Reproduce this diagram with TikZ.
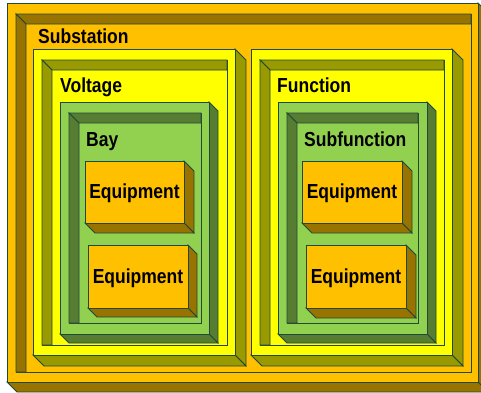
\documentclass[tikz,border=0pt]{standalone}
\usepackage{fontspec}
\setmainfont{Liberation Sans}
\definecolor{edgec}{HTML}{1F4A3A}
\definecolor{orangef}{HTML}{FFC000}
\definecolor{orangeside}{HTML}{997300}
\definecolor{yellowf}{HTML}{FFFF00}
\definecolor{yellowside}{HTML}{999900}
\definecolor{greenf}{HTML}{92D050}
\definecolor{greenside}{HTML}{577D33}
\tikzset{
  edge/.style={draw=edgec,line width=0.8pt,line join=miter},
  lbl/.style={font=\fontsize{17.5}{20}\selectfont\bfseries,inner sep=0pt,yscale=1.16,text=black},
}
% solid 3D box: x1 y1 x2 y2 depth frontcolour sidecolour
\newcommand{\cubebox}[7]{%
  \filldraw[edge,fill=#7] (#3,#2) -- (#3+#5,#2+#5) -- (#3+#5,#4+#5) -- (#3,#4) -- cycle;
  \filldraw[edge,fill=#7] (#1,#4) -- (#3,#4) -- (#3+#5,#4+#5) -- (#1+#5,#4+#5) -- cycle;
  \filldraw[edge,fill=#6] (#1,#2) rectangle (#3,#4);
}
% recessed opening: x1 y1 x2 y2 wall frontcolour sidecolour
\newcommand{\recessbox}[7]{%
  \filldraw[edge,fill=#6] (#1,#2) rectangle (#3,#4);
  \filldraw[edge,fill=#7] (#1,#2) -- (#3,#2) -- (#3,#2+#5) -- (#1+#5,#2+#5) -- cycle;
  \filldraw[edge,fill=#7] (#1,#2) -- (#1+#5,#2+#5) -- (#1+#5,#4) -- (#1,#4) -- cycle;
}
\begin{document}
\begin{tikzpicture}[x=1pt,y=-1pt]
\useasboundingbox (0,0) rectangle (481,392);
\clip (0,0) rectangle (481,392);
\fill[white] (0,0) rectangle (481,392);
% Substation
\cubebox{7}{3}{478}{382}{10}{orangef}{orangeside}
\recessbox{16}{14}{471}{372}{10}{orangef}{orangeside}
\node[lbl,anchor=base west] (substation) at (38,43) {Substation};
% Voltage
\cubebox{33}{49}{235}{355}{11}{yellowf}{yellowside}
\recessbox{42}{60}{227}{345}{10}{yellowf}{yellowside}
\node[lbl,anchor=base west] (voltage) at (60,92) {Voltage};
% Function
\cubebox{251}{49}{452}{355}{11}{yellowf}{yellowside}
\recessbox{260}{60}{444}{345}{10}{yellowf}{yellowside}
\node[lbl,anchor=base west] (function) at (277,92) {Function};
% Bay
\cubebox{60}{102}{209}{334}{9}{greenf}{greenside}
\recessbox{69}{113}{201}{323}{10}{greenf}{greenside}
\node[lbl,anchor=base west] (bay) at (86,146) {Bay};
% Subfunction
\cubebox{278}{102}{427}{334}{9}{greenf}{greenside}
\recessbox{287}{113}{418}{323}{10}{greenf}{greenside}
\node[lbl,anchor=base west] (subfunction) at (304,146) {Subfunction};
% Equipment boxes
\cubebox{85}{161}{184}{223}{10}{orangef}{orangeside}
\node[lbl,anchor=base] (eq1) at (134.5,198) {Equipment};
\cubebox{88}{245}{188}{308}{9}{orangef}{orangeside}
\node[lbl,anchor=base] (eq2) at (138,283) {Equipment};
\cubebox{302}{161}{402}{223}{10}{orangef}{orangeside}
\node[lbl,anchor=base] (eq3) at (352,198) {Equipment};
\cubebox{306}{245}{406}{308}{10}{orangef}{orangeside}
\node[lbl,anchor=base] (eq4) at (356,283) {Equipment};
\end{tikzpicture}
\end{document}
